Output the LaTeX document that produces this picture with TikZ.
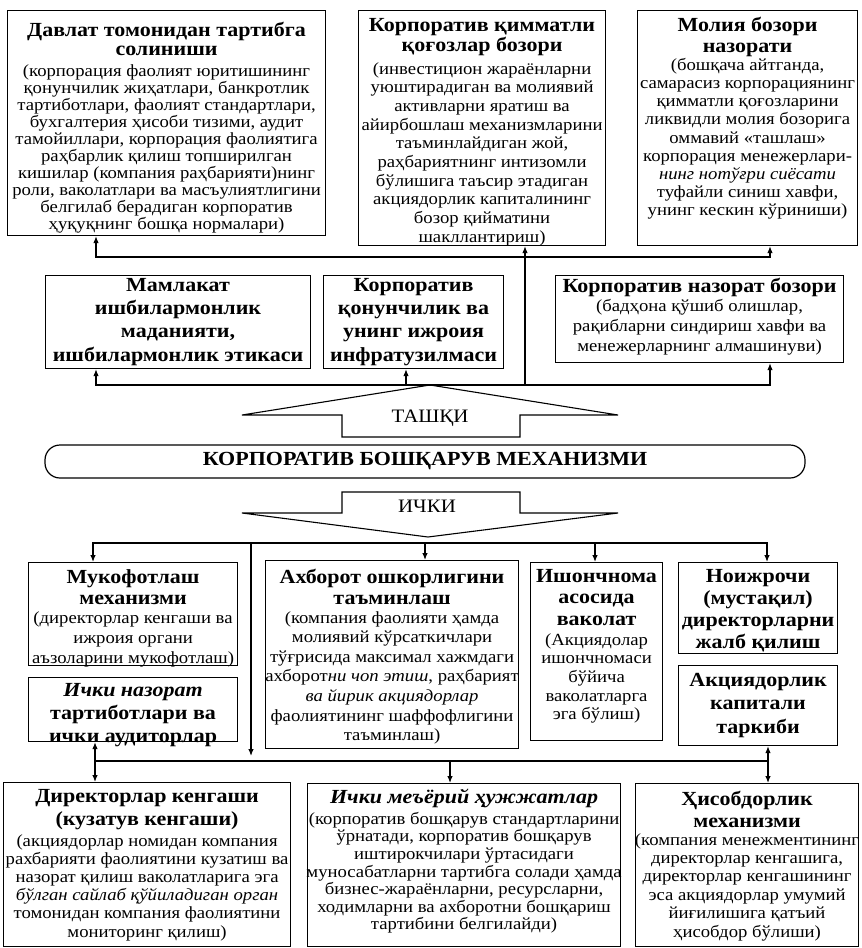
\documentclass[tikz,border=0pt]{standalone}
\usepackage{fontspec}
\setmainfont[FakeStretch=1.1]{Liberation Serif}
\usetikzlibrary{arrows.meta}

\tikzset{
  panel/.style={draw, line width=1.1pt, inner sep=0pt, anchor=north west},
  head/.style={font=\fontsize{20}{#1}\bfseries, align=center, inner sep=0pt, anchor=north},
  head/.default=21,
  body/.style={font=\fontsize{17}{#1}\selectfont, align=center, inner sep=0pt, anchor=north},
  body/.default=18,
  wire/.style={line width=1.2pt},
  arr/.style={line width=1.2pt, -{Latex[length=7pt,width=5.5pt]}},
  dbl/.style={line width=1.2pt, {Latex[length=7pt,width=5.5pt]}-{Latex[length=7pt,width=5.5pt]}},
  bigarrow/.style={line width=1.1pt, line join=miter},
}

\begin{document}
\begin{tikzpicture}[x=1pt,y=-1pt]
\fill[white] (0,0) rectangle (862,948);
\useasboundingbox (0,0) rectangle (862,948);

% ---------- outer environment: top row ----------
\node[panel, minimum width=318pt, minimum height=225pt] (A) at (7,10) {};
\node[head=19] (At) at (A.center |- 0,22) {Давлат томонидан тартибга\\солиниши};
\node[body=17] (Ab) at (A.center |- 0,64) {(корпорация фаолият юритишининг\\қонунчилик жиҳатлари, банкротлик\\тартиботлари, фаолият стандартлари,\\бухгалтерия ҳисоби тизими, аудит\\тамойиллари, корпорация фаолиятига\\раҳбарлик қилиш топширилган\\кишилар (компания раҳбарияти)нинг\\роли, ваколатлари ва масъулиятлигини\\белгилаб берадиган корпоратив\\ҳуқуқнинг бошқа нормалари)};

\node[panel, minimum width=247pt, minimum height=235pt] (B) at (358,10) {};
\node[head=20] (Bt) at (B.center |- 0,18) {Корпоратив қимматли\\қоғозлар бозори};
\node[body=18.7] (Bb) at (B.center |- 0,62) {(инвестицион жараёнларни\\уюштирадиган ва молиявий\\активларни яратиш ва\\айирбошлаш механизмларини\\таъминлайдиган жой,\\раҳбариятнинг интизомли\\бўлишига таъсир этадиган\\акциядорлик капиталининг\\бозор қийматини\\шакллантириш)};

\node[panel, minimum width=220pt, minimum height=235pt] (C) at (637,10) {};
\node[head=21] (Ct) at (C.center |- 0,17) {Молия бозори\\назорати};
\node[body=18.2] (Cb) at (C.center |- 0,58) {(бошқача айтганда,\\самарасиз корпорациянинг\\қимматли қоғозларини\\ликвидли молия бозорига\\оммавий «ташлаш»\\корпорация менежерлари-\\\textit{нинг нотўғри сиёсати}\\туфайли синиш хавфи,\\унинг кескин кўриниши)};

% ---------- outer environment: second row ----------
\node[panel, minimum width=265pt, minimum height=93pt] (M) at (45,275) {};
\node[head=23.3] (Mt) at (M.center |- 0,278) {Мамлакат\\ишбилармонлик\\маданияти,\\ишбилармонлик этикаси};

\node[panel, minimum width=180pt, minimum height=93pt] (Q) at (323,275) {};
\node[head=23.3] (Qt) at (Q.center |- 0,278) {Корпоратив\\қонунчилик ва\\унинг ижроия\\инфратузилмаси};

\node[panel, minimum width=288pt, minimum height=87pt] (N) at (555,275) {};
\node[head] (Nt) at (N.center |- 0,278) {Корпоратив назорат бозори};
\node[body=20] (Nb) at (N.center |- 0,299) {(бадҳона қўшиб олишлар,\\рақибларни синдириш хавфи ва\\менежерларнинг алмашинуви)};

% ---------- outer links ----------
\coordinate (u1) at (96,257);
\coordinate (u2) at (770,257);
\draw[arr] (u2) -- (u1) -- (u1 |- A.south);
\draw[arr] (u1) -- (u2) -- (u2 |- C.south);

\coordinate (l1) at (96,385);
\coordinate (l2) at (406,385);
\coordinate (l3) at (525,385);
\coordinate (l4) at (770,385);
\draw[arr] (l4) -- (l1) -- (l1 |- M.south);
\draw[arr] (l1) -- (l4) -- (l4 |- N.south);
\draw[arr] (l2) -- (l2 |- Q.south);
\draw[arr] (l3) -- (l3 |- B.south);

% ---------- central block ----------
\draw[bigarrow] (430,385) -- (618,415) -- (520,415) -- (520,437) -- (342,437)
  -- (342,415) -- (242,415) -- cycle;
\node[font=\fontsize{19}{22}\selectfont, inner sep=0pt, anchor=base] (outer) at (430,422) {ТАШҚИ};

\node[draw, line width=1.2pt, rounded corners=15pt, minimum width=760pt, minimum height=33pt,
  font=\fontsize{20}{24}\bfseries] (core) at (425,461.5) {КОРПОРАТИВ БОШҚАРУВ МЕХАНИЗМИ};

\draw[bigarrow] (342,492) -- (520,492) -- (520,513) -- (618,513) -- (428,537)
  -- (242,513) -- (342,513) -- cycle;
\node[font=\fontsize{19}{22}\selectfont, inner sep=0pt, anchor=base] (inner) at (427,512) {ИЧКИ};

% ---------- internal mechanisms ----------
\node[panel, minimum width=209pt, minimum height=103pt] (Mk) at (28,562) {};
\node[head=21] (Mkt) at (Mk.center |- 0,569) {Мукофотлаш\\механизми};
\node[body=20] (Mkb) at (Mk.center |- 0,611) {(директорлар кенгаши ва\\ижроия органи\\аъзоларини мукофотлаш)};

\node[panel, minimum width=209pt, minimum height=64pt] (In) at (28,677) {};
\node[head=23] (Int) at (In.center |- 0,683) {\textit{Ички назорат}\\тартиботлари ва\\ички аудиторлар};

\node[panel, minimum width=253pt, minimum height=188pt] (Ax) at (265,560) {};
\node[head=21] (Axt) at (Ax.center |- 0,569) {Ахборот ошкорлигини\\таъминлаш};
\node[body=19.6] (Axb) at (Ax.center |- 0,611) {(компания фаолияти ҳамда\\молиявий кўрсаткичлари\\тўғрисида максимал хажмдаги\\ахборот\textit{ни чоп этиш}, раҳбарият\\\textit{ва йирик акциядорлар}\\фаолиятининг шаффофлигини\\таъминлаш)};

\node[panel, minimum width=132pt, minimum height=178pt] (Ish) at (530,562) {};
\node[head=21.5] (Isht) at (Ish.center |- 0,569) {Ишончнома\\асосида\\ваколат};
\node[body=18.7] (Ishb) at (Ish.center |- 0,633) {(Акциядолар\\ишончномаси\\бўйича\\ваколатларга\\эга бўлиш)};

\node[panel, minimum width=159pt, minimum height=91pt] (Noi) at (678,562) {};
\node[head=22] (Noit) at (Noi.center |- 0,569) {Ноижрочи\\(мустақил)\\директорларни\\жалб қилиш};

\node[panel, minimum width=159pt, minimum height=80pt] (Aks) at (678,665) {};
\node[head=23.5] (Akst) at (Aks.center |- 0,673) {Акциядорлик\\капитали\\таркиби};

% ---------- governance documents row ----------
\node[panel, minimum width=287pt, minimum height=164pt] (Dir) at (3,782) {};
\node[head=23] (Dirt) at (Dir.center |- 0,789) {Директорлар кенгаши\\(кузатув кенгаши)};
\node[body=18.2] (Dirb) at (Dir.center |- 0,834) {(акциядорлар номидан компания\\рахбарияти фаолиятини кузатиш ва\\назорат қилиш ваколатларига эга\\\textit{бўлган сайлаб қўйиладиган орган}\\томонидан компания фаолиятини\\мониторинг қилиш)};

\node[panel, minimum width=313pt, minimum height=163pt] (Mey) at (307,783) {};
\node[head] (Meyt) at (Mey.center |- 0,789) {\textit{Ички меъёрий ҳужжатлар}};
\node[body=17.6] (Meyb) at (Mey.center |- 0,812) {(корпоратив бошқарув стандартларини\\ўрнатади, корпоратив бошқарув\\иштирокчилари ўртасидаги\\муносабатларни тартибга солади ҳамда\\бизнес-жараёнларни, ресурсларни,\\ходимларни ва ахборотни бошқариш\\тартибини белгилайди)};

\node[panel, minimum width=223pt, minimum height=163pt] (His) at (635,783) {};
\node[head=22] (Hist) at (His.center |- 0,791) {Ҳисобдорлик\\механизми};
\node[body=18.4] (Hisb) at (His.center |- 0,833) {(компания менежментининг\\директорлар кенгашига,\\директорлар кенгашининг\\эса акциядорлар умумий\\йиғилишига қатъий\\ҳисобдор бўлиши)};

% ---------- internal links ----------
\coordinate (i1) at (93,543);
\coordinate (i2) at (251,543);
\coordinate (i3) at (425,543);
\coordinate (i4) at (595,543);
\coordinate (i5) at (767,543);
\draw[arr] (i5) -- (i1) -- (i1 |- Mk.north);
\draw[arr] (i1) -- (i5) -- (i5 |- Noi.north);
\draw[arr] (i3) -- (i3 |- Ax.north);
\draw[arr] (i4) -- (i4 |- Ish.north);

\coordinate (j1) at (95,761);
\coordinate (j2) at (251,761);
\coordinate (j3) at (450,761);
\coordinate (j4) at (768,761);
\draw[arr, shorten >=5pt] (i2) -- (j2);
\draw[wire] (j1) -- (j4);
\draw[dbl] (j1 |- In.south) -- (j1 |- Dir.north);
\draw[dbl] (j4 |- Aks.south) -- (j4 |- His.north);
\draw[arr] (j3) -- (j3 |- Mey.north);
\end{tikzpicture}
\end{document}
